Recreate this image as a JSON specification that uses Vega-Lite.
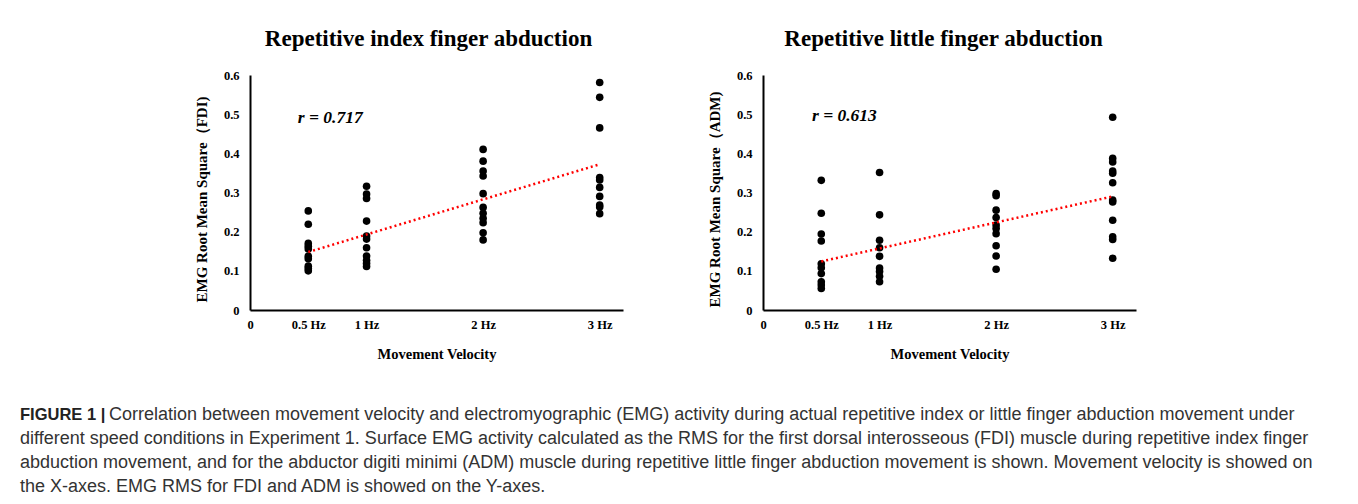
{
  "$schema": "https://vega.github.io/schema/vega-lite/v6.json",
  "background": "white",
  "padding": {"left": 20, "top": 28, "right": 0, "bottom": 0},
  "datasets": {
    "fdi": [
      {"hz": 0.5, "rms": 0.253}, {"hz": 0.5, "rms": 0.219}, {"hz": 0.5, "rms": 0.170}, {"hz": 0.5, "rms": 0.163}, {"hz": 0.5, "rms": 0.156},
      {"hz": 0.5, "rms": 0.137}, {"hz": 0.5, "rms": 0.131}, {"hz": 0.5, "rms": 0.112}, {"hz": 0.5, "rms": 0.106}, {"hz": 0.5, "rms": 0.100},
      {"hz": 1, "rms": 0.316}, {"hz": 1, "rms": 0.296}, {"hz": 1, "rms": 0.285}, {"hz": 1, "rms": 0.227}, {"hz": 1, "rms": 0.189},
      {"hz": 1, "rms": 0.181}, {"hz": 1, "rms": 0.159}, {"hz": 1, "rms": 0.138}, {"hz": 1, "rms": 0.127}, {"hz": 1, "rms": 0.119}, {"hz": 1, "rms": 0.111},
      {"hz": 2, "rms": 0.410}, {"hz": 2, "rms": 0.380}, {"hz": 2, "rms": 0.355}, {"hz": 2, "rms": 0.342}, {"hz": 2, "rms": 0.297},
      {"hz": 2, "rms": 0.262}, {"hz": 2, "rms": 0.247}, {"hz": 2, "rms": 0.234}, {"hz": 2, "rms": 0.223}, {"hz": 2, "rms": 0.197}, {"hz": 2, "rms": 0.179},
      {"hz": 3, "rms": 0.581}, {"hz": 3, "rms": 0.543}, {"hz": 3, "rms": 0.465}, {"hz": 3, "rms": 0.338}, {"hz": 3, "rms": 0.332},
      {"hz": 3, "rms": 0.313}, {"hz": 3, "rms": 0.290}, {"hz": 3, "rms": 0.268}, {"hz": 3, "rms": 0.263}, {"hz": 3, "rms": 0.246}
    ],
    "adm": [
      {"hz": 0.5, "rms": 0.331}, {"hz": 0.5, "rms": 0.247}, {"hz": 0.5, "rms": 0.194}, {"hz": 0.5, "rms": 0.176}, {"hz": 0.5, "rms": 0.118},
      {"hz": 0.5, "rms": 0.108}, {"hz": 0.5, "rms": 0.093}, {"hz": 0.5, "rms": 0.072}, {"hz": 0.5, "rms": 0.064}, {"hz": 0.5, "rms": 0.055},
      {"hz": 1, "rms": 0.351}, {"hz": 1, "rms": 0.243}, {"hz": 1, "rms": 0.178}, {"hz": 1, "rms": 0.159}, {"hz": 1, "rms": 0.137},
      {"hz": 1, "rms": 0.107}, {"hz": 1, "rms": 0.098}, {"hz": 1, "rms": 0.086}, {"hz": 1, "rms": 0.072},
      {"hz": 2, "rms": 0.297}, {"hz": 2, "rms": 0.292}, {"hz": 2, "rms": 0.255}, {"hz": 2, "rms": 0.236}, {"hz": 2, "rms": 0.217},
      {"hz": 2, "rms": 0.208}, {"hz": 2, "rms": 0.195}, {"hz": 2, "rms": 0.164}, {"hz": 2, "rms": 0.138}, {"hz": 2, "rms": 0.104},
      {"hz": 3, "rms": 0.492}, {"hz": 3, "rms": 0.387}, {"hz": 3, "rms": 0.378}, {"hz": 3, "rms": 0.355}, {"hz": 3, "rms": 0.349},
      {"hz": 3, "rms": 0.325}, {"hz": 3, "rms": 0.281}, {"hz": 3, "rms": 0.276}, {"hz": 3, "rms": 0.229}, {"hz": 3, "rms": 0.187},
      {"hz": 3, "rms": 0.180}, {"hz": 3, "rms": 0.132}
    ],
    "fdiTrend": [{"hz": 0.5, "rms": 0.148}, {"hz": 3, "rms": 0.372}],
    "admTrend": [{"hz": 0.5, "rms": 0.124}, {"hz": 3, "rms": 0.290}],
    "fdiR": [{"hz": 0.41, "rms": 0.49, "label": "r = 0.717"}],
    "admR": [{"hz": 0.42, "rms": 0.495, "label": "r = 0.613"}],
    "caption": [
      {"line": 1, "part": "label", "text": "FIGURE 1 |"},
      {"line": 1, "part": "lead", "text": "Correlation between movement velocity and electromyographic (EMG) activity during actual repetitive index or little finger abduction movement under"},
      {"line": 2, "part": "body", "text": "different speed conditions in Experiment 1. Surface EMG activity calculated as the RMS for the first dorsal interosseous (FDI) muscle during repetitive index finger"},
      {"line": 3, "part": "body", "text": "abduction movement, and for the abductor digiti minimi (ADM) muscle during repetitive little finger abduction movement is shown. Movement velocity is showed on"},
      {"line": 4, "part": "body", "text": "the X-axes. EMG RMS for FDI and ADM is showed on the Y-axes."}
    ]
  },
  "config": {
    "view": {"stroke": null},
    "axis": {
      "grid": false, "ticks": false, "domainColor": "black", "domainWidth": 2, "labelOverlap": false,
      "labelFont": "Liberation Serif", "labelFontWeight": "bold", "labelFontSize": 12.5, "labelColor": "black",
      "titleFont": "Liberation Serif", "titleFontWeight": "bold", "titleFontSize": 14.5, "titleColor": "black"
    },
    "title": {"font": "Liberation Serif", "fontSize": 23, "fontWeight": "bold", "color": "black", "anchor": "middle"}
  },
  "spacing": 42,
  "vconcat": [
    {
      "spacing": 84,
      "hconcat": [
        {"width": 90, "height": 235, "data": {"values": []}, "mark": "point", "encoding": {}},
        {
          "width": 373, "height": 235,
          "title": {"text": "Repetitive index finger abduction", "dx": -8, "offset": 18},
          "layer": [
            {
              "data": {"name": "fdi"},
              "mark": {"type": "circle", "size": 58, "opacity": 1, "color": "black"},
              "encoding": {
                "x": {"field": "hz", "type": "quantitative", "scale": {"domain": [0, 3.2], "nice": false},
                      "axis": {"values": [0, 0.5, 1, 2, 3], "labelExpr": "datum.value == 0 ? '0' : datum.value + ' Hz'", "title": "Movement Velocity", "labelPadding": 8, "titlePadding": 17, "labelFlush": false}},
                "y": {"field": "rms", "type": "quantitative", "scale": {"domain": [0, 0.6], "nice": false},
                      "axis": {"tickCount": 6, "labelExpr": "datum.value == 0 ? '0' : format(datum.value, '.1f')", "title": "EMG Root Mean Square（FDI)", "titleFontSize": 15, "titleY": 124, "labelPadding": 11, "titlePadding": 14}}
              }
            },
            {
              "data": {"name": "fdiTrend"},
              "mark": {"type": "line", "color": "#ff0000", "strokeDash": [2, 3], "strokeWidth": 2.5},
              "encoding": {"x": {"field": "hz", "type": "quantitative"}, "y": {"field": "rms", "type": "quantitative"}}
            },
            {
              "data": {"name": "fdiR"},
              "mark": {"type": "text", "align": "left", "baseline": "middle", "font": "Liberation Serif", "fontStyle": "italic", "fontWeight": "bold", "fontSize": 17.5, "color": "black"},
              "encoding": {"x": {"field": "hz", "type": "quantitative"}, "y": {"field": "rms", "type": "quantitative"}, "text": {"field": "label"}}
            }
          ]
        },
        {
          "width": 373, "height": 235,
          "title": {"text": "Repetitive little finger abduction", "dx": -6, "offset": 18},
          "layer": [
            {
              "data": {"name": "adm"},
              "mark": {"type": "circle", "size": 58, "opacity": 1, "color": "black"},
              "encoding": {
                "x": {"field": "hz", "type": "quantitative", "scale": {"domain": [0, 3.2], "nice": false},
                      "axis": {"values": [0, 0.5, 1, 2, 3], "labelExpr": "datum.value == 0 ? '0' : datum.value + ' Hz'", "title": "Movement Velocity", "labelPadding": 8, "titlePadding": 17, "labelFlush": false}},
                "y": {"field": "rms", "type": "quantitative", "scale": {"domain": [0, 0.6], "nice": false},
                      "axis": {"tickCount": 6, "labelExpr": "datum.value == 0 ? '0' : format(datum.value, '.1f')", "title": "EMG Root Mean Square（ADM)", "titleFontSize": 15, "titleY": 124, "labelPadding": 11, "titlePadding": 14}}
              }
            },
            {
              "data": {"name": "admTrend"},
              "mark": {"type": "line", "color": "#ff0000", "strokeDash": [2, 3], "strokeWidth": 2.5},
              "encoding": {"x": {"field": "hz", "type": "quantitative"}, "y": {"field": "rms", "type": "quantitative"}}
            },
            {
              "data": {"name": "admR"},
              "mark": {"type": "text", "align": "left", "baseline": "middle", "font": "Liberation Serif", "fontStyle": "italic", "fontWeight": "bold", "fontSize": 17.5, "color": "black"},
              "encoding": {"x": {"field": "hz", "type": "quantitative"}, "y": {"field": "rms", "type": "quantitative"}, "text": {"field": "label"}}
            }
          ]
        }
      ]
    },
    {
      "width": 1320, "height": 96,
      "data": {"name": "caption"},
      "encoding": {
        "x": {"datum": 0, "type": "quantitative", "scale": {"domain": [0, 1]}, "axis": null},
        "y": {"field": "line", "type": "quantitative", "scale": {"domain": [0.5, 4.5], "reverse": true}, "axis": null},
        "text": {"field": "text"}
      },
      "layer": [
        {"transform": [{"filter": "datum.part == 'label'"}], "mark": {"type": "text", "align": "left", "baseline": "middle", "font": "Liberation Sans", "fontWeight": "bold", "fontSize": 16.5, "color": "#222222"}},
        {"transform": [{"filter": "datum.part == 'lead'"}], "mark": {"type": "text", "align": "left", "baseline": "middle", "font": "Liberation Sans", "fontSize": 18, "color": "#333333", "dx": 89}},
        {"transform": [{"filter": "datum.part == 'body'"}], "mark": {"type": "text", "align": "left", "baseline": "middle", "font": "Liberation Sans", "fontSize": 18, "color": "#333333"}}
      ]
    }
  ]
}
